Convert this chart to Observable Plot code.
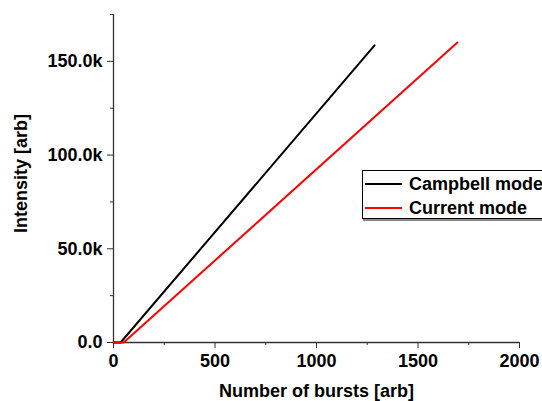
<!DOCTYPE html>
<html>
<head>
<meta charset="utf-8">
<script src="https://cdn.jsdelivr.net/npm/d3@7"></script>
<script src="https://cdn.jsdelivr.net/npm/@observablehq/plot@0.6"></script>
<style>
  html, body { margin: 0; padding: 0; background: #fff; overflow: hidden; }
  #chart { position: relative; width: 542px; height: 401px; overflow: hidden; }
  .legend {
    position: absolute; left: 362px; top: 170px; width: 200px; height: 47px;
    border: 1px solid #000; background: #fff; box-shadow: 1px 2px 0 #888;
    font: bold 18px "Liberation Sans", Arial, sans-serif; color: #000;
  }
  .legend .row { position: absolute; left: 2px; height: 20px; display: flex; align-items: center; white-space: nowrap; }
  .legend .sw { width: 37px; height: 2px; margin-right: 7px; }
</style>
</head>
<body>
<div id="chart"></div>
<script>
// Burst count vs. measured intensity for the two detector modes
const seriesNames = ["Campbell mode", "Current mode"];
const seriesColors = ["#000000", "#ff0000"];
const campbellBursts = [0, 35, 1286];
const campbellIntensity = [0, 0, 158500];
const currentBursts = [0, 50, 1694];
const currentIntensity = [0, 0, 160000];

const xMajor = [0, 500, 1000, 1500, 2000];
const xMinor = [250, 750, 1250, 1750];
const yMajor = [0, 50000, 100000, 150000];
const yMinor = [25000, 75000, 125000, 175000];
const xTitle = "Number of bursts [arb]";
const yTitle = "Intensity [arb]";

const rows = [
  ...campbellBursts.map((b, i) => ({series: seriesNames[0], bursts: b, intensity: campbellIntensity[i]})),
  ...currentBursts.map((b, i) => ({series: seriesNames[1], bursts: b, intensity: currentIntensity[i]}))
];

const xFormat = d => String(d);
const yFormat = d => d === 0 ? "0.0" : (d / 1000).toFixed(1) + "k";
const axisColor = "#333";
const font = {fontSize: 18, fontWeight: "bold"};

const plot = Plot.plot({
  width: 542,
  height: 401,
  marginLeft: 113,
  marginRight: 23,
  marginTop: 14,
  marginBottom: 59,
  style: {fontFamily: "'Liberation Sans', Arial, sans-serif", color: "#000", background: "#fff"},
  x: {domain: [0, 2000]},
  y: {domain: [0, 175000]},
  color: {domain: seriesNames, range: seriesColors},
  marks: [
    Plot.ruleX([0], {y1: 0, y2: 175000, stroke: axisColor, strokeWidth: 1.3}),
    Plot.ruleY([0], {x1: 0, x2: 2000, stroke: axisColor, strokeWidth: 1.3}),
    Plot.axisX({ticks: xMajor, tickSize: 6, tickPadding: 6, tickFormat: xFormat, stroke: axisColor, fill: "#000", label: null, ...font}),
    Plot.axisX({ticks: xMinor, tickSize: 3, text: null, stroke: axisColor, label: null}),
    Plot.axisY({ticks: yMajor, tickSize: 6, tickPadding: 5, tickFormat: yFormat, stroke: axisColor, fill: "#000", label: null, ...font}),
    Plot.axisY({ticks: yMinor, tickSize: 3, text: null, stroke: axisColor, label: null}),
    Plot.line(rows, {x: "bursts", y: "intensity", z: "series", stroke: "series", strokeWidth: 2}),
    Plot.text([xTitle], {frameAnchor: "bottom", dy: 49, textAnchor: "middle", lineAnchor: "middle", text: d => d, ...font}),
    Plot.text([yTitle], {frameAnchor: "left", dx: -92, dy: -5, rotate: -90, textAnchor: "middle", lineAnchor: "middle", text: d => d, ...font})
  ]
});

const chart = document.getElementById("chart");
chart.appendChild(plot);

// Legend box drawn on top of the plot area
const legend = document.createElement("div");
legend.className = "legend";
seriesNames.forEach((name, i) => {
  const row = document.createElement("div");
  row.className = "row";
  row.style.top = (3 + i * 24) + "px";
  const sw = document.createElement("span");
  sw.className = "sw";
  sw.style.background = seriesColors[i];
  const label = document.createElement("span");
  label.textContent = name;
  row.appendChild(sw);
  row.appendChild(label);
  legend.appendChild(row);
});
chart.appendChild(legend);
</script>
</body>
</html>
